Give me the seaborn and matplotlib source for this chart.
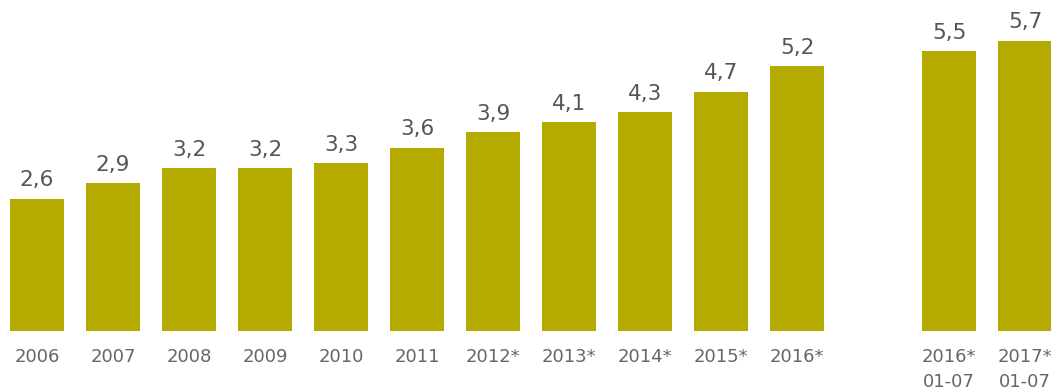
import seaborn as sns
import matplotlib.pyplot as plt

labels = ["2006", "2007", "2008", "2009", "2010", "2011",
          "2012*", "2013*", "2014*", "2015*", "2016*",
          "2016*\n01-07", "2017*\n01-07"]
values = [2.6, 2.9, 3.2, 3.2, 3.3, 3.6, 3.9, 4.1, 4.3, 4.7, 5.2, 5.5, 5.7]

# blank slot between the yearly bars and the half-year bars
order = labels[:11] + [" "] + labels[11:]

sns.set_style("white")
plt.rcParams['font.family'] = ['DejaVu Sans']

fig = plt.figure(figsize=(10.51, 3.9), dpi=100)
ax = fig.add_axes([0, 59 / 390, 1, 331 / 390])

sns.barplot(x=labels, y=values, order=order, color="#b5aa00",
            saturation=1, width=0.71, linewidth=0, ax=ax)

for i, cat in enumerate(order):
    if cat.strip() == "":
        continue
    v = values[labels.index(cat)]
    ax.annotate(f"{v:.1f}".replace(".", ","), (i, v),
                xytext=(0, 6), textcoords="offset points",
                ha="center", va="bottom", fontsize=15.5, color="#555555")

ax.set_xlim(-37 / 76, (1051 - 37) / 76)
ax.set_ylim(0, 6.5)
ax.set_yticks([])
ax.set_ylabel("")
ax.tick_params(axis="x", length=0, pad=12, labelsize=13, labelcolor="#666666")
for t in ax.get_xticklabels():
    t.set_linespacing(1.5)
    t.set_verticalalignment("top")
sns.despine(ax=ax, left=True, bottom=True)

fig.savefig("out.png", dpi=100)
